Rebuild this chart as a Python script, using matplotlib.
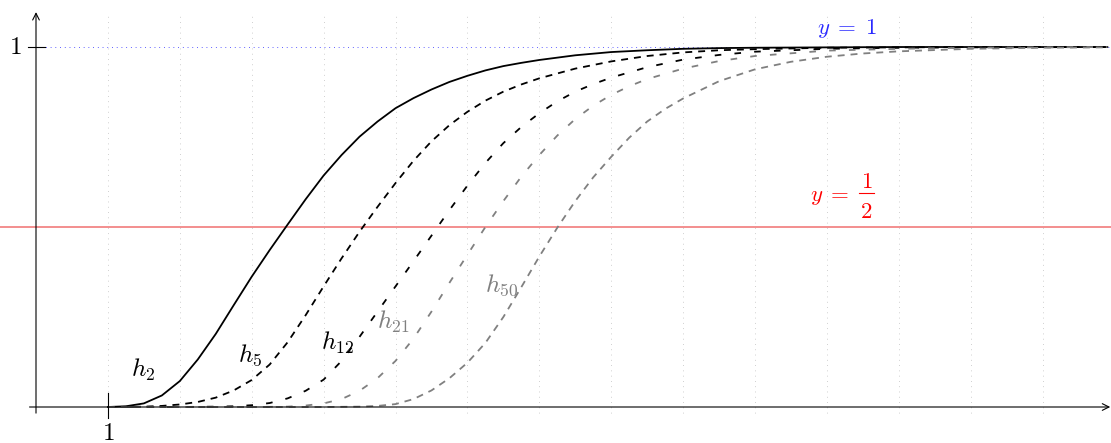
import matplotlib
matplotlib.use("Agg")
import matplotlib.pyplot as plt

plt.rcParams["mathtext.fontset"] = "cm"
plt.rcParams["lines.scale_dashes"] = False

# curves h_n
x_h2 = [1, 1.25, 1.5, 1.75, 2, 2.25, 2.5, 2.75, 3, 3.25, 3.5, 3.75, 4, 4.25, 4.5, 4.75, 5, 5.25,
        5.5, 5.75, 6, 6.25, 6.5, 6.75, 7, 7.5, 8, 8.5, 9, 9.5, 10, 11, 12, 14.9]
y_h2 = [0, 0.002, 0.01, 0.032, 0.072, 0.132, 0.203, 0.283, 0.362, 0.436, 0.507, 0.577, 0.643,
        0.700, 0.751, 0.793, 0.830, 0.858, 0.882, 0.903, 0.920, 0.935, 0.947, 0.956, 0.964,
        0.977, 0.986, 0.991, 0.995, 0.997, 0.998, 0.999, 1.0, 1.0]

x_h5 = [1, 1.5, 1.75, 2, 2.25, 2.5, 2.75, 3, 3.25, 3.5, 3.75, 4, 4.25, 4.5, 4.75, 5, 5.25, 5.5,
        5.75, 6, 6.25, 6.5, 6.75, 7, 7.5, 8, 8.5, 9, 9.5, 10, 11, 12, 13, 14.9]
y_h5 = [0, 0.001, 0.003, 0.007, 0.014, 0.026, 0.046, 0.075, 0.118, 0.18, 0.255, 0.335, 0.413,
        0.487, 0.556, 0.622, 0.684, 0.738, 0.783, 0.82, 0.851, 0.876, 0.896, 0.913, 0.94, 0.96,
        0.975, 0.985, 0.991, 0.994, 0.998, 0.999, 1.0, 1.0]

x_h12 = [1, 2, 2.5, 2.75, 3, 3.25, 3.5, 3.75, 4, 4.25, 4.5, 4.75, 5, 5.25, 5.5, 5.75, 6, 6.25,
         6.5, 6.75, 7, 7.25, 7.5, 7.75, 8, 8.5, 9, 9.5, 10, 11, 12, 13, 14.9]
y_h12 = [0, 0.0, 0.001, 0.002, 0.005, 0.011, 0.024, 0.045, 0.076, 0.128, 0.195, 0.265, 0.335,
         0.405, 0.476, 0.547, 0.615, 0.678, 0.733, 0.778, 0.816, 0.849, 0.876, 0.897, 0.915,
         0.944, 0.965, 0.978, 0.987, 0.995, 0.998, 0.999, 1.0]

x_h21 = [1, 3, 3.5, 3.75, 4, 4.25, 4.5, 4.75, 5, 5.25, 5.5, 5.75, 6, 6.25, 6.5, 6.75, 7, 7.25,
         7.5, 7.75, 8, 8.25, 8.5, 9, 9.5, 10, 11, 12, 13, 14.9]
y_h21 = [0, 0, 0.001, 0.004, 0.01, 0.022, 0.045, 0.08, 0.128, 0.19, 0.265, 0.345, 0.423, 0.5,
         0.572, 0.64, 0.7, 0.754, 0.8, 0.837, 0.867, 0.891, 0.911, 0.94, 0.961, 0.975, 0.99,
         0.995, 0.998, 1.0]

x_h50 = [1, 4, 4.5, 4.75, 5, 5.25, 5.5, 5.75, 6, 6.25, 6.5, 6.75, 7, 7.25, 7.5, 7.75, 8, 8.25,
         8.5, 8.75, 9, 9.5, 10, 10.5, 11, 11.5, 12, 13, 14, 14.9]
y_h50 = [0, 0, 0.001, 0.003, 0.008, 0.022, 0.046, 0.08, 0.123, 0.178, 0.25, 0.333, 0.418, 0.498,
         0.572, 0.638, 0.695, 0.748, 0.793, 0.828, 0.857, 0.905, 0.938, 0.959, 0.973, 0.982,
         0.988, 0.995, 0.998, 0.999]

grid_x = list(range(1, 15))

fig = plt.figure(figsize=(11.11, 4.43), dpi=100)
ax = fig.add_axes([0, 0, 1, 1])
ax.set_xlim(-0.5007, 14.951)
ax.set_ylim(-0.1, 1.1306)
ax.axis("off")

# dotted vertical grid
for gx in grid_x:
    ax.plot([gx, gx], [-0.017, 1.097], color="#c0c0c0", lw=0.6, dashes=(0.6, 3.2))

# reference lines
ax.plot([0, 14.951], [1, 1], color="#4848ff", lw=0.7, dashes=(0.6, 2.8))
ax.axhline(0.5, color="#f07070", lw=1.1)

# curves
ax.plot(x_h2, y_h2, color="black", lw=1.3)
ax.plot(x_h5, y_h5, color="black", lw=1.3, dashes=(5, 4.3))
ax.plot(x_h12, y_h12, color="black", lw=1.3, dashes=(4.75, 9.5))
ax.plot(x_h21, y_h21, color="gray", lw=1.3, dashes=(4.75, 9.5))
ax.plot(x_h50, y_h50, color="gray", lw=1.3, dashes=(5, 4.3))

# axes with arrows
arrow = dict(arrowstyle="->", lw=0.8, color="black", mutation_scale=12, shrinkA=0, shrinkB=0)
ax.annotate("", xy=(14.94, 0), xytext=(-0.09, 0), arrowprops=arrow)
ax.annotate("", xy=(0, 1.097), xytext=(0, -0.017), arrowprops=arrow)

# ticks
ax.plot([1, 1], [-0.031, 0.039], color="black", lw=0.8)
ax.plot([-0.11, 0.125], [1, 1], color="black", lw=0.8)
ax.text(1, -0.0905, "$1$", fontsize=18, ha="center", va="baseline")
ax.text(-0.29, 1.0, "$1$", fontsize=18, ha="center", va="center")

# labels
ax.text(10.86, 1.036, r"$y\;=\;1$", fontsize=16.5, color="#2a2aff", ha="left", va="baseline")
ax.text(10.76, 0.573, r"$y\;=$", fontsize=16.5, color="red", ha="left", va="baseline")
ax.text(11.55, 0.608, "$1$", fontsize=16.5, color="red", ha="center", va="baseline")
ax.text(11.55, 0.524, "$2$", fontsize=16.5, color="red", ha="center", va="baseline")
ax.plot([11.45, 11.655], [0.594, 0.594], color="red", lw=0.8)

ax.text(1.49, 0.103, "$h_2$", fontsize=18, ha="center", va="center")
ax.text(2.98, 0.144, "$h_5$", fontsize=18, ha="center", va="center")
ax.text(4.19, 0.178, "$h_{12}$", fontsize=18, ha="center", va="center")
ax.text(4.97, 0.236, "$h_{21}$", fontsize=18, color="gray", ha="center", va="center")
ax.text(6.48, 0.339, "$h_{50}$", fontsize=18, color="gray", ha="center", va="center")

fig.savefig("out.png", dpi=100)
